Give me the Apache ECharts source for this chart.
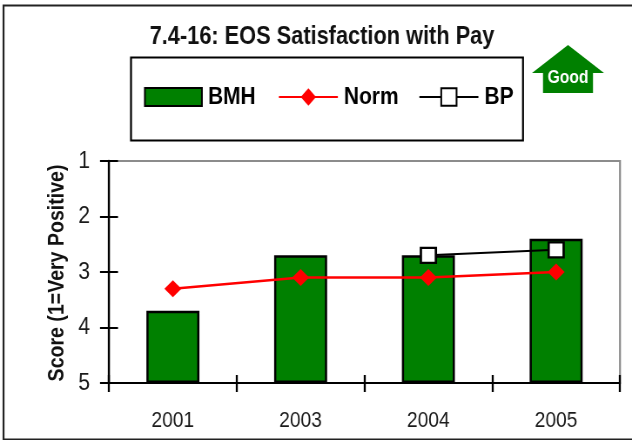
<!DOCTYPE html>
<html><head><meta charset="utf-8">
<style>html,body{margin:0;padding:0;background:#fff;overflow:hidden}
#wrap{width:632px;height:440px;overflow:hidden}
#c{width:726px;height:440px;transform-origin:0 0;transform:scaleX(0.87052)}</style>
<script src="https://cdn.jsdelivr.net/npm/echarts@6/dist/echarts.min.js"></script>
</head><body><div id="wrap"><div id="c"></div></div>
<script>
const categories = ['2001','2003','2004','2005'];
const bmh = [3.7,2.7,2.7,2.4];
const norm = [3.3,3.1,3.1,3.0];
const bp = [null,null,2.7,2.6];
const yTicks = [1,2,3,4,5];
const titleText = '7.4-16: EOS Satisfaction with Pay';
const yName = 'Score (1=Very Positive)';
const F = '"Liberation Sans",Arial,sans-serif';
// The whole chart is drawn wide and squeezed by CSS to get the reference's condensed lettering.
const S = 632/726, X = v => v/S;
const legendText = {fontFamily:F,fontSize:24,fontWeight:'bold',color:'#000',padding:[2,0,0,2]};
const chart = echarts.init(document.getElementById('c'), null, {renderer:'canvas'});
chart.setOption({
  animation:false,
  backgroundColor:'#fff',
  title:{text:titleText,left:X(322),top:25,textAlign:'center',padding:0,
    textStyle:{fontFamily:F,fontSize:25,fontWeight:'bold',color:'#111'}},
  legend:[
    {left:X(144),top:85,padding:0,itemWidth:X(57),itemHeight:18,textStyle:legendText,
     data:[{name:'BMH',icon:'rect'}]},
    {left:X(278),top:85,padding:0,itemWidth:X(59),itemHeight:22,itemGap:X(20),textStyle:legendText,
     data:['Norm','BP']}
  ],
  grid:{left:X(109),top:161,width:X(511),height:222,show:true,borderColor:'#8c8c8c',borderWidth:2.2,backgroundColor:'transparent'},
  xAxis:[
    {type:'category',data:categories,position:'bottom',
     axisLine:{lineStyle:{color:'#000',width:2}},
     axisTick:{show:true,length:9,lineStyle:{color:'#000',width:2.3}},
     axisLabel:{fontFamily:F,fontSize:22,color:'#1a1a1a',margin:27}},
    {type:'category',data:categories,position:'bottom',
     axisLine:{show:false},axisLabel:{show:false},
     axisTick:{show:true,inside:true,length:8,lineStyle:{color:'#000',width:2.3}}}
  ],
  yAxis:[
    {type:'value',inverse:true,min:yTicks[0],max:yTicks[4],interval:1,startValue:5,position:'left',
     axisLine:{show:true,lineStyle:{color:'#000',width:2.3}},
     axisTick:{show:true,length:X(9),lineStyle:{color:'#000',width:2}},
     splitLine:{show:false},
     axisLabel:{fontFamily:F,fontSize:24,color:'#1a1a1a',margin:X(19),padding:[5,0,0,0]}},
    {type:'value',inverse:true,min:yTicks[0],max:yTicks[4],interval:1,startValue:5,position:'left',
     axisLine:{show:false},axisLabel:{show:false},splitLine:{show:false},
     axisTick:{show:true,inside:true,length:X(9),lineStyle:{color:'#000',width:2}}}
  ],
  series:[
    {name:'BMH',type:'bar',data:bmh,barWidth:X(53),
     itemStyle:{color:'#008000',borderColor:'#000',borderWidth:2.5}},
    {name:'Norm',type:'line',data:norm,symbol:'diamond',symbolSize:[X(17),17],z:4,
     lineStyle:{color:'#ff0000',width:2.5},itemStyle:{color:'#ff0000'}},
    {name:'BP',type:'line',data:bp,symbol:'rect',symbolSize:[X(15),15],z:5,connectNulls:false,
     lineStyle:{color:'#000',width:2},itemStyle:{color:'#fff',borderColor:'#000',borderWidth:2.5}}
  ],
  graphic:[
    {type:'rect',z:-1,silent:true,shape:{x:X(3.5),y:5.5,width:800,height:434},style:{fill:'none',stroke:'#222',lineWidth:2.2}},
    {type:'rect',z:-1,silent:true,shape:{x:X(131),y:57.5,width:X(392),height:83},style:{fill:'#fff',stroke:'#000',lineWidth:2.2}},
    {type:'polygon',silent:true,shape:{points:[[568,45],[604,73],[593,73],[593,93],[543,93],[543,73],[532,73]].map(p=>[X(p[0]),p[1]])},
     style:{fill:'#008000'}},
    {type:'text',silent:true,x:X(568),y:78,style:{text:'Good',fill:'#fff',fontFamily:F,fontSize:18,fontWeight:'bold',align:'center',verticalAlign:'middle'}},
    {type:'text',silent:true,x:X(57),y:273,rotation:Math.PI/2,scaleX:0.85,scaleY:1/S,
     style:{text:yName,fill:'#111',fontFamily:F,fontSize:23,fontWeight:'bold',align:'center',verticalAlign:'middle'}}
  ]
});
</script></body></html>
